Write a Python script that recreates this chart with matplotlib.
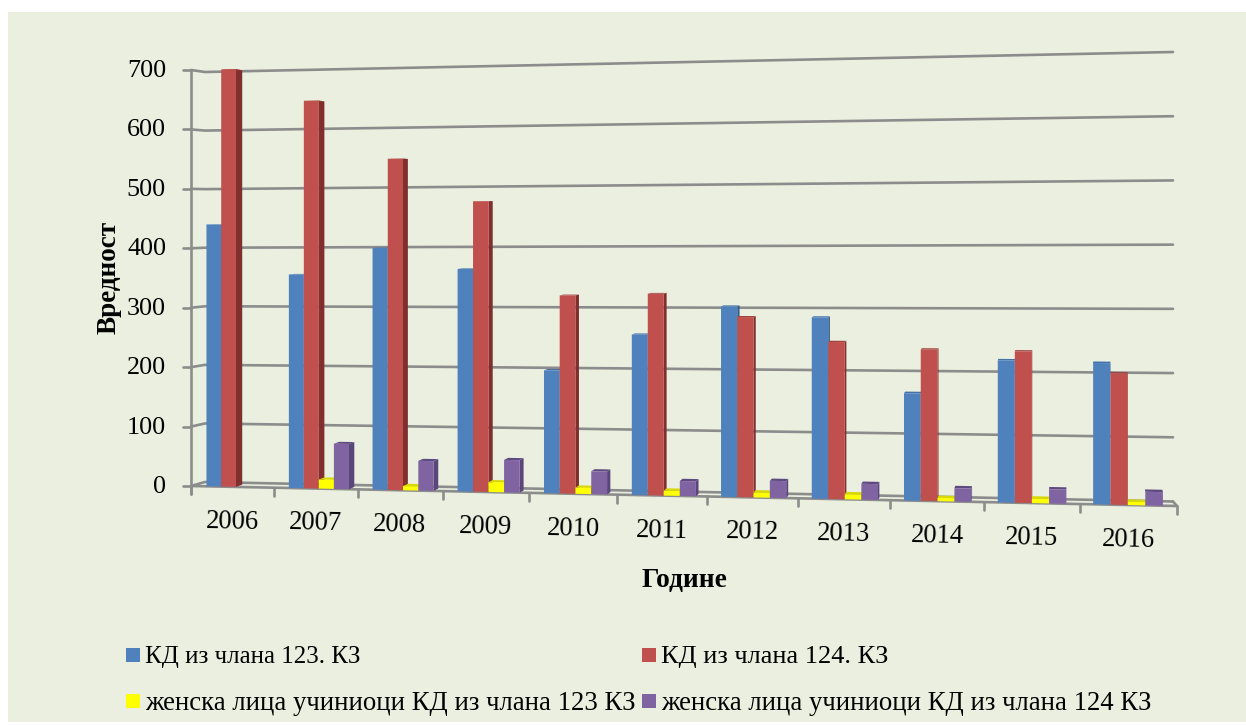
import numpy as np
import matplotlib
matplotlib.use("Agg")
import matplotlib.pyplot as plt
from matplotlib.transforms import Transform
from matplotlib.patches import Polygon, Rectangle

plt.rcParams['font.family'] = ['Liberation Serif', 'DejaVu Serif']

# ---------- data ----------
years = [2006, 2007, 2008, 2009, 2010, 2011, 2012, 2013, 2014, 2015, 2016]
kd_123 = [440, 356, 400, 365, 200, 259, 305, 288, 169, 222, 219]
kd_124 = [700, 645, 547, 476, 322, 325, 288, 249, 238, 236, 203]
women_123 = [0, 15, 7, 16, 10, 8, 8, 8, 5, 7, 5]
women_124 = [0, 75, 49, 53, 37, 24, 27, 25, 21, 22, 21]
y_ticks = [0, 100, 200, 300, 400, 500, 600, 700]
series_labels = ["КД из члана 123. КЗ", "КД из члана 124. КЗ",
                 "женска лица учиниоци КД из члана 123 КЗ",
                 "женска лица учиниоци КД из члана 124 КЗ"]
x_title = "Године"
y_title = "Вредност"

# ---------- style ----------
BG = "#EBEFDF"
GRID = "#8C8C8C"
face = ["#4F81BD", "#C0504D", "#FFFF00", "#8064A2"]
side = ["#385D8A", "#7F2F2D", "#B5B500", "#59467A"]
top = ["#4472A8", "#A04340", "#D8D800", "#5E4A80"]
BAR_START, BAR_W, DEPTH = 0.165, 0.18, 0.55
N = len(years)
VMAX = 700.0


class Perspective(Transform):
    """Homography from (category, value) to canvas pixels."""
    input_dims = output_dims = 2
    is_separable = False
    has_inverse = False

    def __init__(self, bl, br, tr, tl):
        super().__init__()
        src = [(0, 0), (N, 0), (N, VMAX), (0, VMAX)]
        dst = [bl, br, tr, tl]
        A, b = [], []
        for (u, v), (x, y) in zip(src, dst):
            A.append([u, v, 1, 0, 0, 0, -u * x, -v * x]); b.append(x)
            A.append([0, 0, 0, u, v, 1, -u * y, -v * y]); b.append(y)
        h = np.linalg.solve(np.array(A, float), np.array(b, float))
        self.H = np.append(h, 1).reshape(3, 3)

    def transform_non_affine(self, values):
        v = np.asarray(values, float)
        p = np.column_stack([v, np.ones(len(v))]) @ self.H.T
        return p[:, :2] / p[:, 2:3]


front = Perspective((191, 486), (1177, 506), (1177, 51), (191, 70))
bar_plane = Perspective((193, 486), (1174, 506), (1174, 51), (193, 70))
back = Perspective((205, 482), (1173, 501.5), (1173, 52), (205, 72))


def pt(c, v, f=0.0, plane=front):
    a = plane.transform_non_affine([(c, v)])[0]
    b = back.transform_non_affine([(c, v)])[0]
    return a + f * (b - a)


fig = plt.figure(figsize=(12.46, 7.25), dpi=100, facecolor="white")
ax = fig.add_axes([0, 0, 1, 1])
ax.set_xlim(0, 1246)
ax.set_ylim(725, 0)
ax.axis("off")
ax.add_patch(Rectangle((8, 12), 1238, 710, fc=BG, ec="none", zorder=0))
line = dict(color=GRID, lw=1.9, solid_capstyle="round", solid_joinstyle="round", zorder=1)

# walls, floor and gridlines
for v in y_ticks:
    a, b, c = pt(0, v), pt(0, v, 1), pt(N, v, 1)
    ax.plot([a[0], b[0], c[0]], [a[1], b[1], c[1]], **line)
    ax.plot([a[0] - 8, a[0]], [a[1], a[1]], **line)
    ax.text(a[0] - 25, a[1] + 1, str(v), ha="right", va="center", fontsize=18.8, color="black")
a0, a1 = pt(0, 0), pt(0, VMAX)
ax.plot([a0[0], a1[0]], [a0[1] + 8, a1[1]], **line)
f0, f1 = pt(0, 0), pt(N, 0)
ax.plot([f0[0], f1[0]], [f0[1], f1[1]], **line)
b1 = pt(N, 0, 1)
ax.plot([b1[0], f1[0]], [b1[1], f1[1]], **line)
for i in range(N + 1):
    p = pt(i, 0)
    ax.plot([p[0], p[0]], [p[1], p[1] + 8], **line)
for i, y in enumerate(years):
    p = pt(i + 0.5, 0)
    ax.text(p[0], p[1] + 35, str(y), ha="center", va="center", fontsize=19.2,
            rotation=-1.2, rotation_mode="anchor", color="black")

# bars
tr = bar_plane + ax.transData
all_series = [kd_123, kd_124, women_123, women_124]
for i in range(N):
    for s, vals in enumerate(all_series):
        v = vals[i]
        if v <= 0:
            continue
        c0 = i + BAR_START + s * BAR_W
        c1 = c0 + BAR_W
        z = 3 + i + s * 0.1
        q = lambda c, val, f=0.0: pt(c, val, f, bar_plane)
        ax.add_patch(Polygon([q(c1, 0), q(c1, v), q(c1, v, DEPTH), q(c1, 0, DEPTH)],
                             closed=True, fc=side[s], ec="none", zorder=z))
        ax.add_patch(Polygon([q(c0, v), q(c1, v), q(c1, v, DEPTH), q(c0, v, DEPTH)],
                             closed=True, fc=top[s], ec="none", zorder=z))
        ax.bar(c0, v, width=BAR_W, align="edge", color=face[s], linewidth=0,
               transform=tr, zorder=z + 0.01)
ax.set_xlim(0, 1246)
ax.set_ylim(725, 0)

# titles
ax.text(109, 277, y_title, rotation=90, ha="center", va="center", fontsize=19.5,
        fontweight="bold", color="black")
ax.text(684, 580, x_title, ha="center", va="center", fontsize=19.8,
        fontweight="bold", color="black")

# legend
legend_x = [126, 642, 126, 642]
legend_y = [655, 655, 701, 701]
legend_size = [18, 19, 19.3, 19.3]
for s, lab in enumerate(series_labels):
    ax.add_patch(Rectangle((legend_x[s], legend_y[s] - 7), 14, 14, fc=face[s], ec="none", zorder=2))
    ax.text(legend_x[s] + 19, legend_y[s] + 2, lab, ha="left", va="center",
            fontsize=legend_size[s], color="black")

fig.savefig("out.png", dpi=100, facecolor="white")
